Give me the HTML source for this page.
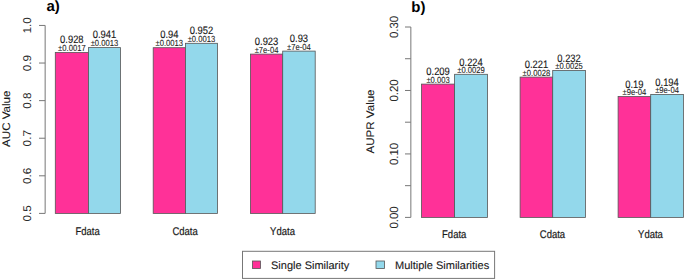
<!DOCTYPE html>
<html><head><meta charset="utf-8"><style>
html,body{margin:0;padding:0;background:#fff;width:685px;height:280px;overflow:hidden}
svg{display:block;font-family:"Liberation Sans",sans-serif;text-rendering:geometricPrecision}
</style></head><body>
<svg width="685" height="280" viewBox="0 0 685 280">
<rect width="685" height="280" fill="#fff"/>
<text transform="translate(46.50,11.20)" font-size="15" font-weight="bold" fill="#000">a)</text>
<text transform="translate(411.30,11.80)" font-size="15" font-weight="bold" fill="#000">b)</text>
<line x1="45.15" y1="25.45" x2="45.15" y2="213.40" stroke="#777777" stroke-width="1"/>
<line x1="39" y1="213.40" x2="45.15" y2="213.40" stroke="#777777" stroke-width="1"/>
<text transform="translate(31.40,213.40) rotate(-90) scale(1.04,1.0)" text-anchor="middle" font-size="11.3" fill="#2a2a2a">0.5</text>
<line x1="39" y1="175.81" x2="45.15" y2="175.81" stroke="#777777" stroke-width="1"/>
<text transform="translate(31.40,175.81) rotate(-90) scale(1.04,1.0)" text-anchor="middle" font-size="11.3" fill="#2a2a2a">0.6</text>
<line x1="39" y1="138.22" x2="45.15" y2="138.22" stroke="#777777" stroke-width="1"/>
<text transform="translate(31.40,138.22) rotate(-90) scale(1.04,1.0)" text-anchor="middle" font-size="11.3" fill="#2a2a2a">0.7</text>
<line x1="39" y1="100.63" x2="45.15" y2="100.63" stroke="#777777" stroke-width="1"/>
<text transform="translate(31.40,100.63) rotate(-90) scale(1.04,1.0)" text-anchor="middle" font-size="11.3" fill="#2a2a2a">0.8</text>
<line x1="39" y1="63.04" x2="45.15" y2="63.04" stroke="#777777" stroke-width="1"/>
<text transform="translate(31.40,63.04) rotate(-90) scale(1.04,1.0)" text-anchor="middle" font-size="11.3" fill="#2a2a2a">0.9</text>
<line x1="39" y1="25.45" x2="45.15" y2="25.45" stroke="#777777" stroke-width="1"/>
<text transform="translate(31.40,25.45) rotate(-90) scale(1.04,1.0)" text-anchor="middle" font-size="11.3" fill="#2a2a2a">1.0</text>
<text transform="translate(10.00,118.75) rotate(-90) scale(1.05,1.0)" text-anchor="middle" font-size="11.0" fill="#1a1a1a" stroke="#1a1a1a" stroke-width="0.1">AUC Value</text>
<rect x="55.30" y="52.50" width="33.10" height="160.90" fill="#FF3198" stroke="#555555" stroke-width="0.8"/>
<text transform="translate(71.85,43.25) scale(1.0,1.15)" text-anchor="middle" font-size="9.4" fill="#1a1a1a" stroke="#1a1a1a" stroke-width="0.12">0.928</text>
<text transform="translate(71.85,50.90) scale(1.0,1.15)" text-anchor="middle" font-size="7.65" fill="#222222" stroke="#222222" stroke-width="0.08">±0.0017</text>
<rect x="88.40" y="47.60" width="32.10" height="165.80" fill="#93D8EB" stroke="#555555" stroke-width="0.8"/>
<text transform="translate(104.45,38.35) scale(1.0,1.15)" text-anchor="middle" font-size="9.4" fill="#1a1a1a" stroke="#1a1a1a" stroke-width="0.12">0.941</text>
<text transform="translate(104.45,46.00) scale(1.0,1.15)" text-anchor="middle" font-size="7.65" fill="#222222" stroke="#222222" stroke-width="0.08">±0.0013</text>
<text transform="translate(87.60,234.60) scale(1.0,1.18)" text-anchor="middle" font-size="9.5" fill="#1a1a1a" stroke="#1a1a1a" stroke-width="0.18">Fdata</text>
<rect x="153.20" y="47.70" width="32.20" height="165.70" fill="#FF3198" stroke="#555555" stroke-width="0.8"/>
<text transform="translate(169.30,38.45) scale(1.0,1.15)" text-anchor="middle" font-size="9.4" fill="#1a1a1a" stroke="#1a1a1a" stroke-width="0.12">0.94</text>
<text transform="translate(169.30,46.10) scale(1.0,1.15)" text-anchor="middle" font-size="7.65" fill="#222222" stroke="#222222" stroke-width="0.08">±0.0013</text>
<rect x="185.40" y="43.30" width="32.10" height="170.10" fill="#93D8EB" stroke="#555555" stroke-width="0.8"/>
<text transform="translate(201.45,34.05) scale(1.0,1.15)" text-anchor="middle" font-size="9.4" fill="#1a1a1a" stroke="#1a1a1a" stroke-width="0.12">0.952</text>
<text transform="translate(201.45,41.70) scale(1.0,1.15)" text-anchor="middle" font-size="7.65" fill="#222222" stroke="#222222" stroke-width="0.08">±0.0013</text>
<text transform="translate(185.05,234.60) scale(1.0,1.18)" text-anchor="middle" font-size="9.5" fill="#1a1a1a" stroke="#1a1a1a" stroke-width="0.18">Cdata</text>
<rect x="250.40" y="54.10" width="32.30" height="159.30" fill="#FF3198" stroke="#555555" stroke-width="0.8"/>
<text transform="translate(266.55,44.85) scale(1.0,1.15)" text-anchor="middle" font-size="9.4" fill="#1a1a1a" stroke="#1a1a1a" stroke-width="0.12">0.923</text>
<text transform="translate(266.55,52.50) scale(1.0,1.15)" text-anchor="middle" font-size="7.65" fill="#222222" stroke="#222222" stroke-width="0.08">±7e-04</text>
<rect x="282.70" y="51.10" width="32.50" height="162.30" fill="#93D8EB" stroke="#555555" stroke-width="0.8"/>
<text transform="translate(298.95,41.85) scale(1.0,1.15)" text-anchor="middle" font-size="9.4" fill="#1a1a1a" stroke="#1a1a1a" stroke-width="0.12">0.93</text>
<text transform="translate(298.95,49.50) scale(1.0,1.15)" text-anchor="middle" font-size="7.65" fill="#222222" stroke="#222222" stroke-width="0.08">±7e-04</text>
<text transform="translate(282.50,234.60) scale(1.0,1.18)" text-anchor="middle" font-size="9.5" fill="#1a1a1a" stroke="#1a1a1a" stroke-width="0.18">Ydata</text>
<line x1="410.85" y1="27.00" x2="410.85" y2="217.40" stroke="#777777" stroke-width="1"/>
<line x1="405" y1="217.40" x2="410.85" y2="217.40" stroke="#777777" stroke-width="1"/>
<text transform="translate(397.80,217.40) rotate(-90) scale(0.96,1.0)" text-anchor="middle" font-size="11.9" fill="#2a2a2a">0.00</text>
<line x1="405" y1="185.67" x2="410.85" y2="185.67" stroke="#777777" stroke-width="1"/>
<line x1="405" y1="153.93" x2="410.85" y2="153.93" stroke="#777777" stroke-width="1"/>
<text transform="translate(397.80,153.93) rotate(-90) scale(0.96,1.0)" text-anchor="middle" font-size="11.9" fill="#2a2a2a">0.10</text>
<line x1="405" y1="122.20" x2="410.85" y2="122.20" stroke="#777777" stroke-width="1"/>
<line x1="405" y1="90.47" x2="410.85" y2="90.47" stroke="#777777" stroke-width="1"/>
<text transform="translate(397.80,90.47) rotate(-90) scale(0.96,1.0)" text-anchor="middle" font-size="11.9" fill="#2a2a2a">0.20</text>
<line x1="405" y1="58.73" x2="410.85" y2="58.73" stroke="#777777" stroke-width="1"/>
<line x1="405" y1="27.00" x2="410.85" y2="27.00" stroke="#777777" stroke-width="1"/>
<text transform="translate(397.80,27.00) rotate(-90) scale(0.96,1.0)" text-anchor="middle" font-size="11.9" fill="#2a2a2a">0.30</text>
<text transform="translate(374.30,121.45) rotate(-90) scale(1.05,1.0)" text-anchor="middle" font-size="11.0" fill="#1a1a1a" stroke="#1a1a1a" stroke-width="0.1">AUPR Value</text>
<rect x="421.50" y="84.10" width="33.10" height="133.30" fill="#FF3198" stroke="#555555" stroke-width="0.8"/>
<text transform="translate(438.05,75.30) scale(1.0,1.15)" text-anchor="middle" font-size="9.4" fill="#1a1a1a" stroke="#1a1a1a" stroke-width="0.12">0.209</text>
<text transform="translate(438.05,82.50) scale(1.0,1.15)" text-anchor="middle" font-size="7.65" fill="#222222" stroke="#222222" stroke-width="0.08">±0.003</text>
<rect x="454.60" y="74.30" width="32.90" height="143.10" fill="#93D8EB" stroke="#555555" stroke-width="0.8"/>
<text transform="translate(471.05,65.50) scale(1.0,1.15)" text-anchor="middle" font-size="9.4" fill="#1a1a1a" stroke="#1a1a1a" stroke-width="0.12">0.224</text>
<text transform="translate(471.05,72.70) scale(1.0,1.15)" text-anchor="middle" font-size="7.65" fill="#222222" stroke="#222222" stroke-width="0.08">±0.0029</text>
<text transform="translate(454.20,238.30) scale(1.0,1.18)" text-anchor="middle" font-size="9.5" fill="#1a1a1a" stroke="#1a1a1a" stroke-width="0.18">Fdata</text>
<rect x="520.10" y="77.10" width="32.60" height="140.30" fill="#FF3198" stroke="#555555" stroke-width="0.8"/>
<text transform="translate(536.40,68.30) scale(1.0,1.15)" text-anchor="middle" font-size="9.4" fill="#1a1a1a" stroke="#1a1a1a" stroke-width="0.12">0.221</text>
<text transform="translate(536.40,75.50) scale(1.0,1.15)" text-anchor="middle" font-size="7.65" fill="#222222" stroke="#222222" stroke-width="0.08">±0.0028</text>
<rect x="552.70" y="70.40" width="32.70" height="147.00" fill="#93D8EB" stroke="#555555" stroke-width="0.8"/>
<text transform="translate(569.05,61.60) scale(1.0,1.15)" text-anchor="middle" font-size="9.4" fill="#1a1a1a" stroke="#1a1a1a" stroke-width="0.12">0.232</text>
<text transform="translate(569.05,68.80) scale(1.0,1.15)" text-anchor="middle" font-size="7.65" fill="#222222" stroke="#222222" stroke-width="0.08">±0.0025</text>
<text transform="translate(552.45,238.30) scale(1.0,1.18)" text-anchor="middle" font-size="9.5" fill="#1a1a1a" stroke="#1a1a1a" stroke-width="0.18">Cdata</text>
<rect x="618.10" y="96.50" width="32.60" height="120.90" fill="#FF3198" stroke="#555555" stroke-width="0.8"/>
<text transform="translate(634.40,87.70) scale(1.0,1.15)" text-anchor="middle" font-size="9.4" fill="#1a1a1a" stroke="#1a1a1a" stroke-width="0.12">0.19</text>
<text transform="translate(634.40,94.90) scale(1.0,1.15)" text-anchor="middle" font-size="7.65" fill="#222222" stroke="#222222" stroke-width="0.08">±9e-04</text>
<rect x="650.70" y="94.40" width="32.70" height="123.00" fill="#93D8EB" stroke="#555555" stroke-width="0.8"/>
<text transform="translate(667.05,85.60) scale(1.0,1.15)" text-anchor="middle" font-size="9.4" fill="#1a1a1a" stroke="#1a1a1a" stroke-width="0.12">0.194</text>
<text transform="translate(667.05,92.80) scale(1.0,1.15)" text-anchor="middle" font-size="7.65" fill="#222222" stroke="#222222" stroke-width="0.08">±9e-04</text>
<text transform="translate(650.45,238.30) scale(1.0,1.18)" text-anchor="middle" font-size="9.5" fill="#1a1a1a" stroke="#1a1a1a" stroke-width="0.18">Ydata</text>
<rect x="242.5" y="251.3" width="252.1" height="27.1" fill="#fff" stroke="#777777" stroke-width="1"/>
<rect x="252.5" y="261" width="8" height="7.5" fill="#FF3198" stroke="#555555" stroke-width="0.8"/>
<text transform="translate(271.00,269.00)" font-size="11.0" fill="#1a1a1a" stroke="#1a1a1a" stroke-width="0.12">Single Similarity</text>
<rect x="376" y="261" width="8.5" height="7.5" fill="#93D8EB" stroke="#555555" stroke-width="0.8"/>
<text transform="translate(395.00,269.00)" font-size="11.0" fill="#1a1a1a" stroke="#1a1a1a" stroke-width="0.12">Multiple Similarities</text>
</svg>
</body></html>
